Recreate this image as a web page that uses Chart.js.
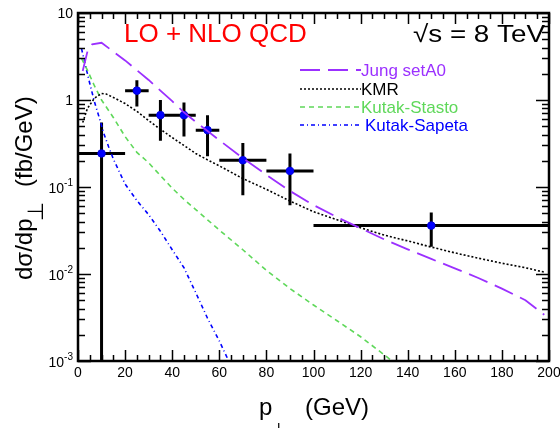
<!DOCTYPE html>
<html>
<head>
<meta charset="utf-8">
<script src="https://cdn.jsdelivr.net/npm/chart.js@4.4.1/dist/chart.umd.min.js"></script>
<style>
  body { margin: 0; background: #fff; }
  #c { display: block; }
</style>
</head>
<body>
<canvas id="c" width="560" height="428"></canvas>
<script>
// Messpunkte (p_T, dsigma/dp_T) mit Fehlern
const ptX = [10, 25, 35, 45, 55, 70, 90, 150];
const ptY = [0.243, 1.28, 0.67, 0.67, 0.45, 0.203, 0.153, 0.036];
const ptXLo = [0, 20, 30, 40, 50, 60, 80, 100];
const ptXHi = [20, 30, 40, 50, 60, 80, 100, 200];
const ptYLo = [0.0001, 0.84, 0.34, 0.38, 0.226, 0.0805, 0.0618, 0.0206];
const ptYHi = [0.55, 1.69, 1.0, 0.935, 0.67, 0.32, 0.243, 0.051];

// Jung setA0
const jungX = [2, 4, 6, 10, 15, 20, 25, 30, 35, 40, 45, 50, 55, 60, 70, 80, 90, 100, 110, 120, 130, 140, 150, 160, 170, 180, 190, 198];
const jungY = [2.15, 3.6, 4.36, 4.55, 3.6, 2.85, 2.2, 1.7, 1.28, 0.97, 0.72, 0.56, 0.44, 0.345, 0.215, 0.138, 0.09, 0.062, 0.045, 0.0335, 0.025, 0.0192, 0.0149, 0.0116, 0.009, 0.0068, 0.005, 0.0034];

// KMR
const kmrX = [2, 4, 7, 10, 12, 15, 20, 25, 30, 35, 40, 45, 50, 55, 60, 70, 80, 90, 100, 110, 120, 130, 140, 150, 160, 170, 180, 190, 198];
const kmrY = [0.55, 0.8, 1.05, 1.19, 1.17, 1.07, 0.91, 0.74, 0.58, 0.46, 0.37, 0.3, 0.243, 0.205, 0.175, 0.125, 0.094, 0.069, 0.052, 0.042, 0.034, 0.028, 0.024, 0.0204, 0.0175, 0.0152, 0.0133, 0.0118, 0.0105];

// Kutak-Stasto
const stastoX = [1.5, 4, 7, 10, 15, 20, 25, 30, 35, 40, 45, 50, 55, 60, 70, 80, 90, 100, 110, 120, 130, 135];
const stastoY = [3.0, 2.2, 1.45, 1.0, 0.63, 0.38, 0.25, 0.19, 0.135, 0.097, 0.072, 0.055, 0.042, 0.032, 0.019, 0.011, 0.0068, 0.0044, 0.0029, 0.0019, 0.00118, 0.00092];

// Kutak-Sapeta
const sapetaX = [1.5, 3, 5, 7, 9, 11, 13, 15, 20, 25, 30, 35, 40, 45, 50, 55, 60, 64, 66];
const sapetaY = [3.9, 2.6, 1.55, 0.95, 0.63, 0.41, 0.29, 0.21, 0.108, 0.07, 0.048, 0.031, 0.019, 0.0118, 0.0061, 0.0031, 0.0017, 0.001, 0.0008];

// Achsenbeschriftung
const xTickLabels = [0, 20, 40, 60, 80, 100, 120, 140, 160, 180, 200];
const yTickExps = [-3, -2, -1, 0, 1];

const FONT = '"Liberation Sans", Arial, sans-serif';

function toXY(xs, ys) {
    return xs.map((x, i) => ({x: x, y: ys[i]}));
}

function curve(label, xs, ys, color, dash, width) {
    return {
        label: label,
        data: toXY(xs, ys),
        showLine: true,
        borderColor: color,
        backgroundColor: color,
        borderWidth: width,
        borderDash: dash,
        pointRadius: 0,
        tension: 0
    };
}

// Rahmen, Ticks, Texte, Legende, Fehlerbalken
const rootStyle = {
    id: 'rootStyle',
    beforeDatasetsDraw(chart) {
        const ctx = chart.ctx;
        const xs = chart.scales.x, ys = chart.scales.y;
        const a = chart.chartArea;
        ctx.save();
        ctx.beginPath();
        ctx.rect(a.left, a.top, a.right - a.left, a.bottom - a.top);
        ctx.clip();
        ctx.strokeStyle = '#000';
        ctx.lineWidth = 3;
        ctx.beginPath();
        for (let i = 0; i < ptX.length; i++) {
            const px = xs.getPixelForValue(ptX[i]);
            const py = ys.getPixelForValue(ptY[i]);
            ctx.moveTo(xs.getPixelForValue(ptXLo[i]), py);
            ctx.lineTo(xs.getPixelForValue(ptXHi[i]), py);
            ctx.moveTo(px, ys.getPixelForValue(ptYLo[i]));
            ctx.lineTo(px, ys.getPixelForValue(ptYHi[i]));
        }
        ctx.stroke();
        ctx.restore();
    },
    afterDraw(chart) {
        const ctx = chart.ctx;
        const xs = chart.scales.x, ys = chart.scales.y;
        const a = chart.chartArea;
        ctx.save();
        ctx.strokeStyle = '#000';

        // Ticks x (unten + oben)
        ctx.lineWidth = 1.5;
        ctx.beginPath();
        for (let v = 0; v <= 200; v += 5) {
            const px = Math.round(xs.getPixelForValue(v)) + 0.5;
            const len = (v % 20 === 0) ? 11 : 6;
            ctx.moveTo(px, a.bottom); ctx.lineTo(px, a.bottom - len);
            ctx.moveTo(px, a.top); ctx.lineTo(px, a.top + len);
        }
        // Ticks y (links + rechts)
        for (let e = -3; e <= 1; e++) {
            for (let m = 1; m <= 9; m++) {
                const v = m * Math.pow(10, e);
                if (v > 10.0001) break;
                const py = Math.round(ys.getPixelForValue(v)) + 0.5;
                const len = (m === 1) ? 13 : 7;
                ctx.moveTo(a.left, py); ctx.lineTo(a.left + len, py);
                ctx.moveTo(a.right, py); ctx.lineTo(a.right - len, py);
            }
        }
        ctx.stroke();

        // Rahmen
        ctx.lineWidth = 2.5;
        ctx.strokeRect(a.left, a.top, a.right - a.left, a.bottom - a.top);

        // Tick-Labels x
        ctx.fillStyle = '#000';
        ctx.font = '14px ' + FONT;
        ctx.textAlign = 'center';
        ctx.textBaseline = 'alphabetic';
        xTickLabels.forEach(v => {
            ctx.fillText(String(v), xs.getPixelForValue(v), a.bottom + 16);
        });

        // Tick-Labels y
        yTickExps.forEach(e => {
            const py = ys.getPixelForValue(Math.pow(10, e));
            const rx = 73;
            if (e === 0 || e === 1) {
                ctx.font = '14px ' + FONT;
                ctx.textAlign = 'right';
                ctx.fillText(e === 0 ? '1' : '10', rx, py + 5);
            } else {
                const sup = String(e);
                ctx.font = '10px ' + FONT;
                const sw = ctx.measureText(sup).width;
                ctx.textAlign = 'left';
                ctx.fillText(sup, rx - sw, py - 1);
                ctx.font = '14px ' + FONT;
                ctx.textAlign = 'right';
                ctx.fillText('10', rx - sw, py + 6);
            }
        });

        // Achsentitel x
        ctx.textAlign = 'left';
        ctx.font = '24px ' + FONT;
        ctx.fillText('p', 259, 415);
        ctx.font = '20px ' + FONT;
        ctx.fillText('⊥', 270, 437);
        ctx.font = '24px ' + FONT;
        ctx.fillText('(GeV)', 305, 415);

        // Achsentitel y
        ctx.save();
        ctx.translate(32, 280);
        ctx.rotate(-Math.PI / 2);
        ctx.font = '24px ' + FONT;
        ctx.fillText('dσ/dp', 0, 0);
        const w = ctx.measureText('dσ/dp').width;
        ctx.font = '22px ' + FONT;
        ctx.fillText('⊥', w - 3, 11);
        ctx.font = '24px ' + FONT;
        ctx.fillText('(fb/GeV)', 93, 0);
        ctx.restore();

        // Titeltexte
        ctx.font = '26px ' + FONT;
        ctx.fillStyle = '#ff0000';
        ctx.fillText('LO + NLO QCD', 124, 42);
        ctx.fillStyle = '#000';
        ctx.font = '24px ' + FONT;
        ctx.textAlign = 'left';
        const energy = '√s = 8 TeV';
        const ew = ctx.measureText(energy).width;
        ctx.save();
        ctx.translate(413, 42);
        ctx.scale(132 / ew, 1);
        ctx.fillText(energy, 0, 0);
        ctx.restore();

        // Legende
        const rows = [70, 89, 107, 125];
        ctx.textAlign = 'left';
        ctx.font = '17px ' + FONT;
        chart.data.datasets.slice(0, 4).forEach((ds, i) => {
            const y = rows[i];
            ctx.strokeStyle = ds.borderColor;
            ctx.lineWidth = ds.borderWidth;
            ctx.setLineDash(ds.borderDash);
            ctx.beginPath();
            ctx.moveTo(300, y);
            ctx.lineTo(361, y);
            ctx.stroke();
            ctx.setLineDash([]);
            ctx.fillStyle = ds.textColor;
            ctx.fillText(ds.label, i === 3 ? 365 : 361, y + 6);
        });
        ctx.restore();
    }
};

const jung = curve('Jung setA0', jungX, jungY, '#9b30ff', [20, 8], 1.8);
jung.textColor = '#9b30ff';
const kmr = curve('KMR', kmrX, kmrY, '#000000', [2, 2], 1.6);
kmr.textColor = '#000000';
const stasto = curve('Kutak-Stasto', stastoX, stastoY, '#5fd85a', [5, 4], 1.6);
stasto.textColor = '#5fd85a';
const sapeta = curve('Kutak-Sapeta', sapetaX, sapetaY, '#0000ff', [4, 3, 1, 3], 1.6);
sapeta.textColor = '#0000ff';

const points = {
    label: 'Daten',
    data: toXY(ptX, ptY),
    showLine: false,
    pointRadius: 3.8,
    pointBackgroundColor: '#0000ff',
    pointBorderColor: '#0000dd',
    pointBorderWidth: 1
};

new Chart(document.getElementById('c'), {
    type: 'scatter',
    data: { datasets: [jung, kmr, stasto, sapeta, points] },
    options: {
        responsive: false,
        animation: false,
        devicePixelRatio: 1,
        layout: { padding: { left: 78, right: 11, top: 13, bottom: 67 } },
        scales: {
            x: { type: 'linear', min: 0, max: 200, display: false },
            y: { type: 'logarithmic', min: 0.001, max: 10, display: false }
        },
        plugins: {
            legend: { display: false },
            tooltip: { enabled: false }
        }
    },
    plugins: [rootStyle]
});
</script>
</body>
</html>
